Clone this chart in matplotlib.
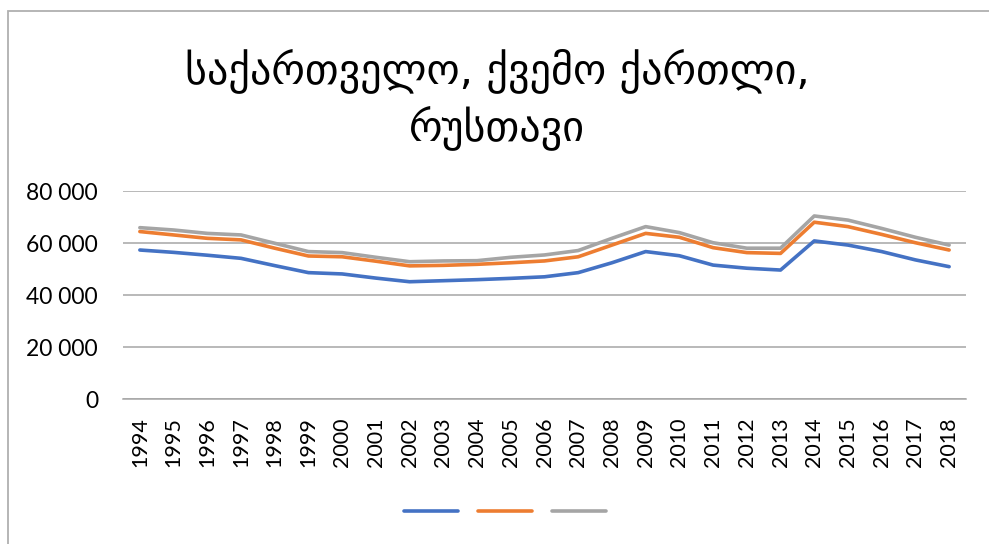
import matplotlib.pyplot as plt
from matplotlib.patches import Rectangle
from matplotlib.lines import Line2D
from matplotlib.ticker import FuncFormatter

# роки та три ряди
years = list(range(1994, 2019))
blue_vals = [57300, 56400, 55300, 54100, 51300, 48600, 48100, 46500, 45100, 45500,
             45900, 46400, 47000, 48600, 52400, 56700, 55100, 51500, 50300, 49600,
             60800, 59200, 56700, 53500, 50900]
orange_vals = [64400, 63100, 61800, 61200, 58000, 55000, 54700, 53000, 51200, 51400,
               51800, 52400, 53100, 54700, 59200, 63700, 62200, 58200, 56300, 56000,
               68000, 66300, 63300, 60100, 57300]
grey_vals = [65900, 65000, 63700, 63100, 59900, 56700, 56300, 54500, 52800, 53100,
             53200, 54500, 55400, 57100, 61800, 66300, 64000, 60100, 58000, 58000,
             70400, 68800, 65600, 62200, 59200]
y_ticks = [0, 20000, 40000, 60000, 80000]
title = "საქართველო, ქვემო ქართლი,\nრუსთავი"

colors = ['#4472C4', '#ED7D31', '#A5A5A5']

fig = plt.figure(figsize=(9.89, 5.44), dpi=100)
ax = fig.add_axes([123 / 989, 1 - 399 / 544, 843 / 989, 208 / 544])

x = list(range(len(years)))
for vals, c in zip([blue_vals, orange_vals, grey_vals], colors):
    ax.plot(x, vals, color=c, lw=2.6, solid_capstyle='round', zorder=3)

ax.set_xlim(-0.5, len(years) - 0.5)
ax.set_ylim(0, 80000)
ax.set_yticks(y_ticks)
ax.yaxis.set_major_formatter(FuncFormatter(lambda v, p: f"{int(v):,}".replace(',', ' ')))
ax.set_xticks(x)
ax.set_xticklabels([str(y) for y in years], rotation=90)

ax.grid(axis='y', color='#a6a6a6', lw=1.1)
ax.set_axisbelow(True)
for s in ['top', 'right', 'left']:
    ax.spines[s].set_visible(False)
ax.spines['bottom'].set_color('#a6a6a6')
ax.spines['bottom'].set_linewidth(1.1)
ax.tick_params(axis='both', length=0)
ax.tick_params(axis='y', pad=18, labelsize=16.5)
ax.tick_params(axis='x', pad=13, labelsize=15.5)
for lab in ax.get_yticklabels() + ax.get_xticklabels():
    lab.set_family(['Lato', 'DejaVu Sans'])

# заголовок
fig.text(0.5025, 1 - 99 / 544, title, ha='center', va='center',
         fontsize=30.3, linespacing=1.35, family='DejaVu Sans')

# легенда без підписів
leg_handles = [Line2D([0], [0], color=c, lw=2.6, solid_capstyle='round') for c in colors]
fig.legend(leg_handles, ['', '', ''], loc='center', bbox_to_anchor=(505 / 989, 1 - 512 / 544),
           ncol=3, frameon=False, handlelength=3.9, handletextpad=0, columnspacing=1.4)

# рамка навколо діаграми
fig.patches.append(Rectangle((8 / 989, -0.1), 1.1, 1.1 - 11 / 544, transform=fig.transFigure,
                             fill=False, edgecolor='#b0b0b0', lw=1.3))

fig.savefig('out.png', dpi=100)
